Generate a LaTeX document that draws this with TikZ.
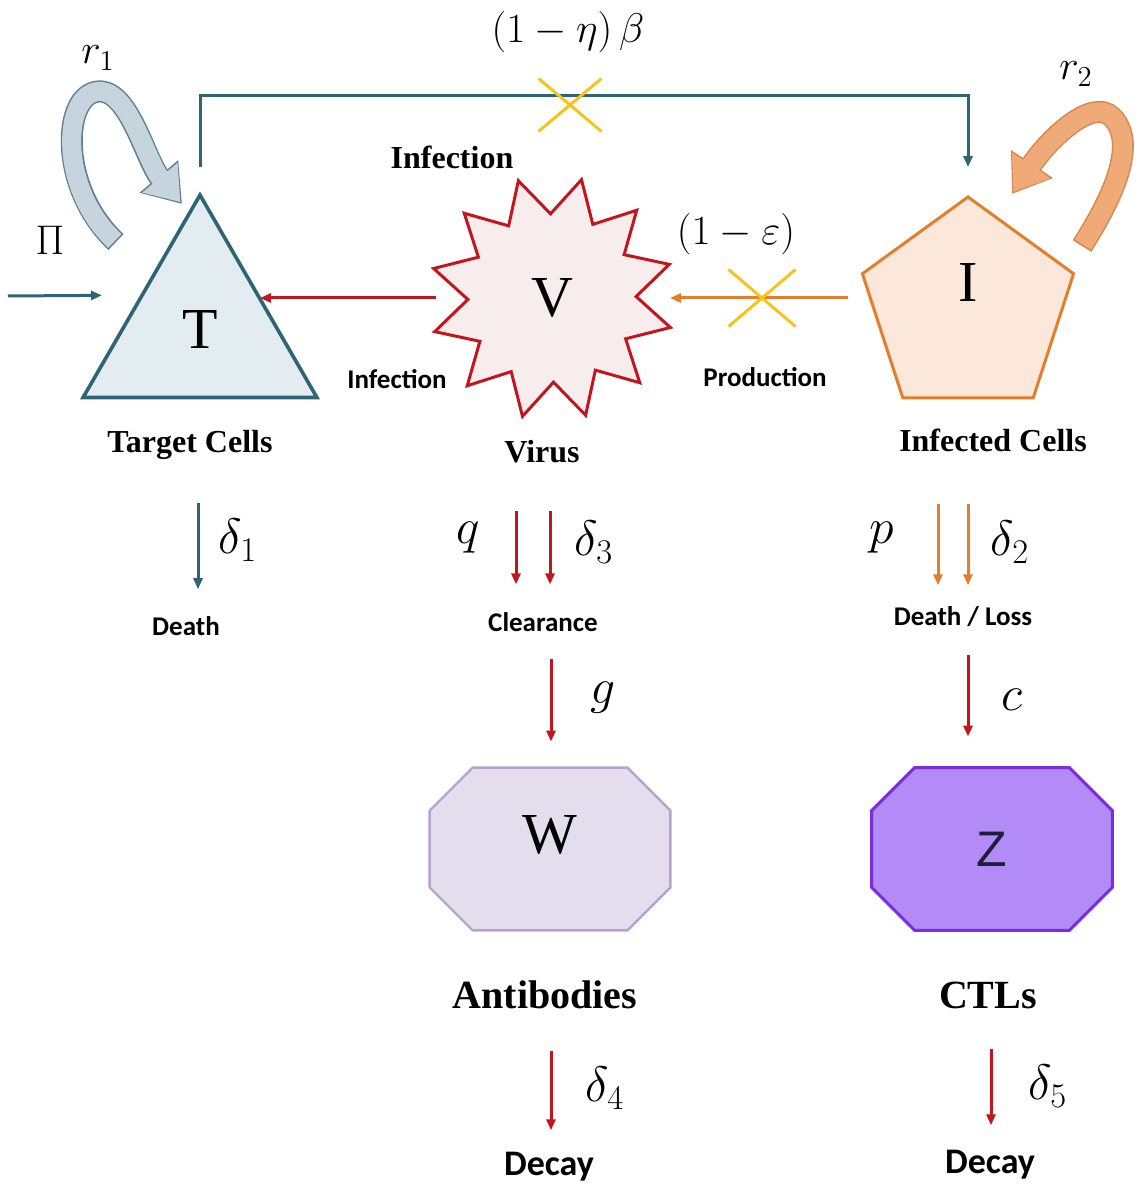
\documentclass[tikz,border=0pt]{standalone}
\usepackage{fontspec}
\setmainfont{Liberation Serif}
\newfontfamily\notefont{Carlito}
\newfontfamily\zfont{Liberation Sans}
\usetikzlibrary{positioning,arrows.meta,calc,shapes.geometric,shapes.misc,backgrounds}
\definecolor{cellInk}{HTML}{2F6475}
\definecolor{cellFill}{HTML}{E3ECF1}
\definecolor{virRed}{HTML}{C2161E}
\definecolor{virFill}{HTML}{F8EDED}
\definecolor{infOr}{HTML}{E27F2D}
\definecolor{infFill}{HTML}{FCE8DA}
\definecolor{blockYel}{HTML}{F4C51C}
\definecolor{abFill}{HTML}{E3DDEE}
\definecolor{abEdge}{HTML}{B4A5CE}
\definecolor{ctlFill}{HTML}{B38BF8}
\definecolor{ctlEdge}{HTML}{7A2BE3}
\definecolor{zInk}{HTML}{1E1E3C}
\definecolor{loopBlue}{HTML}{C6D4DE}
\definecolor{loopBlueDk}{HTML}{607F90}
\definecolor{loopOr}{HTML}{F0AA78}
\definecolor{loopOrDk}{HTML}{D5874D}

\newcommand{\octagonof}[1]{([xshift=21.5pt]#1.north west) -- ([xshift=-21.5pt]#1.north east)
  -- ([yshift=-21.5pt]#1.north east) -- ([yshift=21.5pt]#1.south east)
  -- ([xshift=-21.5pt]#1.south east) -- ([xshift=21.5pt]#1.south west)
  -- ([yshift=21.5pt]#1.south west) -- ([yshift=-21.5pt]#1.north west) -- cycle}

\tikzset{
  flow/.style={line width=1.5pt, -{Triangle[length=5.5pt,width=4.5pt]}},
  cellname/.style={font=\bfseries\fontsize{16}{19}\selectfont, inner sep=0pt},
  bigname/.style={font=\bfseries\fontsize{20}{24}\selectfont, inner sep=0pt},
  note/.style={font=\notefont\bfseries\fontsize{13.5}{16}\selectfont, inner sep=0pt},
  decay/.style={font=\notefont\bfseries\fontsize{18}{21}\selectfont, inner sep=0pt},
  rate/.style={font=\fontsize{24}{28}\selectfont, inner sep=0pt},
  coef/.style={font=\fontsize{20}{24}\selectfont, inner sep=0pt},
  letter/.style={font=\fontsize{29}{32}\selectfont, inner sep=0pt},
  octbox/.style={rectangle, minimum width=120pt, minimum height=81pt, inner sep=0pt},
  block/.style={cross out, draw=blockYel, line width=1.5pt},
  loopout/.style={line width=11pt, -{Triangle[length=18pt,width=24pt]}},
  loopin/.style={line width=9.5pt, shorten <=0.8pt, shorten >=1.2pt, -{Triangle[length=16pt,width=22pt]}}
}

\begin{document}
\begin{tikzpicture}[x=0.5pt, y=-0.5pt]
\useasboundingbox (0,0) rectangle (1141,1187);

% compartments
\node[regular polygon, regular polygon sides=3, minimum size=135pt, letter,
      draw=cellInk, line width=1.8pt, fill=cellFill] (T) at (200,330) {T};
\node[star, star points=12, star point ratio=1.45, shape border rotate=16, minimum size=122pt, letter,
      draw=virRed, line width=1.5pt, fill=virFill] (V) at (552,298) {V};
\node[regular polygon, regular polygon sides=5, minimum size=111pt, letter,
      draw=infOr, line width=1.5pt, fill=infFill] (I) at (968,308) {\raisebox{3.4pt}[0pt][0pt]{I}};
\node[octbox, letter] (W) at (550,849) {\raisebox{-2.1pt}[0pt][0pt]{W}};
\node[octbox, text=zInk, font=\zfont\fontsize{25}{28}\selectfont] (Z) at (992,849) {Z};
\begin{scope}[on background layer]
  \draw[abEdge, fill=abFill, line width=1.2pt] \octagonof{W};
  \draw[ctlEdge, fill=ctlFill, line width=1.5pt] \octagonof{Z};
\end{scope}

% names
\node[cellname] (tLab) at (190,445) {Target Cells};
\node[cellname] (vLab) at (542,452) {Virus};
\node[cellname] (iLab) at (993,440) {Infected Cells};
\node[bigname] (wLab) at (545,995) {Antibodies};
\node[bigname] (zLab) at (988,995) {CTLs};
\node[cellname] (topInf) at (452,157) {Infection};
\node[note] (vInf) at (397,379) {Infection};
\node[note] (iProd) at (765,377) {Production};
\node[note] (tDeath) at (186,626) {Death};
\node[note] (vClr) at (543,622) {Clearance};
\node[note] (iLoss) at (963,617) {Death / Loss};
\node[decay] (wDecay) at (549,1167) {Decay};
\node[decay] (zDecay) at (990,1165) {Decay};

% rates
\node[coef] (piIn) at (50,240) {$\Pi$};
\node[coef] (r1) at (98,58) {$r_1$};
\node[coef] (r2) at (1076,74) {$r_2$};
\node[coef] (etaLab) at (568,32) {$(1-\eta)\,\beta$};
\node[coef] (epsLab) at (736,234) {$(1-\varepsilon)$};
\node[rate] (d1) at (238,540) {$\delta_1$};
\node[rate] (q) at (468,538) {$q$};
\node[rate] (d3) at (594,542) {$\delta_3$};
\node[rate] (g) at (603,698) {$g$};
\node[rate] (d4) at (605,1088) {$\delta_4$};
\node[rate] (p) at (882,538) {$p$};
\node[rate] (d2) at (1010,542) {$\delta_2$};
\node[rate] (c) at (1012,700) {$c$};
\node[rate] (d5) at (1048,1086) {$\delta_5$};

% self renewal loops
\draw[loopout, loopBlueDk] (116,242) .. controls (60,190) and (62,100) .. (95,92)
  .. controls (128,84) and (145,160) .. (182,204);
\draw[loopin, loopBlue] (116,242) .. controls (60,190) and (62,100) .. (95,92)
  .. controls (128,84) and (145,160) .. (182,204);
\draw[loopout, loopOrDk] (1082,246) .. controls (1108,205) and (1140,145) .. (1112,117)
  .. controls (1092,97) and (1048,140) .. (1012,194);
\draw[loopin, loopOr] (1082,246) .. controls (1108,205) and (1140,145) .. (1112,117)
  .. controls (1092,97) and (1048,140) .. (1012,194);

% flows
\coordinate (piSrc) at (8,296);
\draw[flow, cellInk] (piSrc) -- ([xshift=-19pt]T.side 1);
\draw[flow, cellInk] ([yshift=12pt]T.north) -- ++(0,-72) -| ([yshift=14pt]I.north);
\draw[flow, virRed] ($(V.180)+(-28,0)$) -- (T.side 3 |- V.180);
\draw[flow, infOr] ($(I.180 |- V.0)+(-24,0)$) -- ($(V.0)+(30,0)$);

\draw[flow, cellInk, shorten <=21.4pt, shorten >=13.4pt] ($(tLab.south)+(8,0)$) -- ($(tLab.south |- tDeath.north)+(8,0)$);
\draw[flow, virRed, shorten <=23.5pt, shorten >=13.8pt] ($(vLab.south)+(-26,0)$) -- ($(vLab.south |- vClr.north)+(-26,0)$);
\draw[flow, virRed, shorten <=23.5pt, shorten >=13.8pt] ($(vLab.south)+(8,0)$) -- ($(vLab.south |- vClr.north)+(8,0)$);
\draw[flow, virRed, shorten <=13.3pt, shorten >=13pt] ($(vClr.south)+(8,0)$) -- ($(vClr.south |- W.north)+(8,0)$);
\draw[flow, virRed, shorten <=20.7pt, shorten >=10.9pt] ($(wLab.south)+(6,0)$) -- ($(wLab.south |- wDecay.north)+(6,0)$);
\draw[flow, infOr, shorten <=26pt, shorten >=10.6pt] ($(iLab.south)+(-55,0)$) -- ($(iLab.south |- iLoss.north)+(-55,0)$);
\draw[flow, infOr, shorten <=26pt, shorten >=10.6pt] ($(iLab.south)+(-25,0)$) -- ($(iLab.south |- iLoss.north)+(-25,0)$);
\draw[flow, virRed, shorten <=13.6pt, shorten >=15.5pt] ($(iLoss.south)+(5,0)$) -- ($(iLoss.south |- Z.north)+(5,0)$);
\draw[flow, virRed, shorten <=20pt, shorten >=12.4pt] ($(zLab.south)+(3,0)$) -- ($(zLab.south |- zDecay.north)+(3,0)$);

% blocked steps
\node[block, minimum width=30pt, minimum height=25pt] (xTop) at (570,105) {};
\node[block, minimum width=32pt, minimum height=27pt] (xProd) at (762,298) {};
\end{tikzpicture}
\end{document}
